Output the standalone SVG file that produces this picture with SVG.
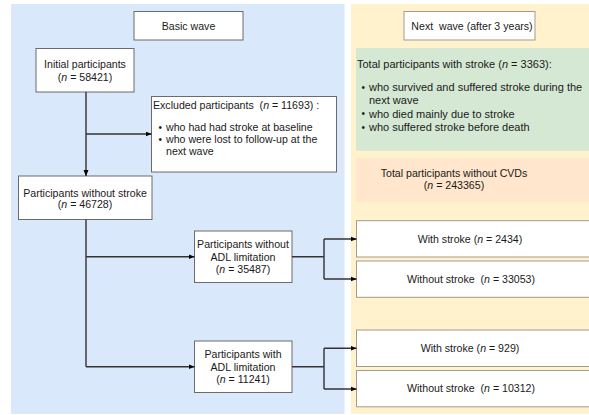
<svg xmlns="http://www.w3.org/2000/svg" width="589" height="415" viewBox="0 0 589 415">
<defs>
<marker id="arr" viewBox="0 0 6 6" refX="6" refY="3" markerWidth="6" markerHeight="6" markerUnits="userSpaceOnUse" orient="auto">
<path d="M0,0.5 L6,3 L0,5.5 Z" fill="#000"/>
</marker>
<style>
text{font-family:"Liberation Sans",Arial,sans-serif;font-size:10.6px;fill:#1a1a1a}
.c{text-anchor:middle}
.g{font-size:11px}
.b{font-size:10px}
.box{fill:#fff;stroke:#6b6b6b;stroke-width:1}
.rbox{fill:#fff;stroke:#a39b8c;stroke-width:1}
.con{fill:none;stroke:#333;stroke-width:1.4}
.arrow{marker-end:url(#arr)}
</style>
</defs>
<rect x="11" y="4" width="333.5" height="410" fill="#dae8fc"/>
<rect x="351" y="4" width="240" height="410" fill="#fff2cc"/>

<g id="basic-wave">
<rect class="box" x="134" y="11.5" width="109" height="28.5"/>
<text class="c" x="188.5" y="29.7">Basic wave</text>
</g>
<g id="next-wave">
<rect class="rbox" x="404" y="11.5" width="131" height="28.5"/>
<text class="c" x="472" y="29.7" xml:space="preserve">Next  wave (after 3 years)</text>
</g>

<g id="initial">
<rect class="box" x="36" y="48.5" width="98" height="43.5"/>
<text class="c" x="85" y="67.7">Initial participants</text>
<text class="c" x="85" y="81">(<tspan font-style="italic">n</tspan> = 58421)</text>
</g>

<g id="excluded">
<rect class="box" x="151.5" y="96.5" width="185" height="75.5"/>
<text x="153" y="108.7" xml:space="preserve">Excluded participants  (<tspan font-style="italic">n</tspan> = 11693) :</text>
<text class="b" x="158.5" y="131.2">•</text>
<text x="166" y="131.4">who had had stroke at baseline</text>
<text class="b" x="158.5" y="142.8">•</text>
<text x="166" y="143">who were lost to follow-up at the</text>
<text x="166" y="154.7">next wave</text>
</g>

<g id="without-stroke">
<rect class="box" x="18.5" y="176" width="133.5" height="43.5"/>
<text class="c" x="85" y="197">Participants without stroke</text>
<text class="c" x="85" y="208.3">(<tspan font-style="italic">n</tspan> = 46728)</text>
</g>

<g id="adl-without">
<rect class="box" x="194.5" y="231" width="97.5" height="51.5"/>
<text class="c" x="243" y="248.2">Participants without</text>
<text class="c" x="243" y="260.5">ADL limitation</text>
<text class="c" x="243" y="272.8">(<tspan font-style="italic">n</tspan> = 35487)</text>
</g>

<g id="adl-with">
<rect class="box" x="194.5" y="341" width="97.5" height="51.5"/>
<text class="c" x="243" y="358.2">Participants with</text>
<text class="c" x="243" y="370.5">ADL limitation</text>
<text class="c" x="243" y="382.8">(<tspan font-style="italic">n</tspan> = 11241)</text>
</g>

<g id="total-stroke">
<rect x="356" y="48" width="235" height="102.7" fill="#d5e8d4"/>
<text class="g" x="357" y="68">Total participants with stroke (<tspan font-style="italic">n</tspan> = 3363):</text>
<text class="b" x="361.5" y="90.6">•</text>
<text class="g" x="369" y="90.8">who survived and suffered stroke during the</text>
<text class="g" x="369" y="104.3">next wave</text>
<text class="b" x="361.5" y="117.4">•</text>
<text class="g" x="369" y="117.6">who died mainly due to stroke</text>
<text class="b" x="361.5" y="130.7">•</text>
<text class="g" x="369" y="130.9">who suffered stroke before death</text>
</g>

<g id="total-no-cvd">
<rect x="356" y="158.3" width="235" height="43.4" fill="#ffe6cc"/>
<text class="c" x="454" y="177">Total participants without CVDs</text>
<text class="c" x="454" y="189.2">(<tspan font-style="italic">n</tspan> = 243365)</text>
</g>

<g id="with-stroke-1">
<rect class="rbox" x="356.5" y="220.7" width="240" height="36.3"/>
<text class="c" x="470" y="242.5">With stroke (<tspan font-style="italic">n</tspan> = 2434)</text>
</g>
<g id="without-stroke-1">
<rect class="rbox" x="356.5" y="261" width="240" height="36.3"/>
<text class="c" x="471" y="282.8" xml:space="preserve">Without stroke  (<tspan font-style="italic">n</tspan> = 33053)</text>
</g>
<g id="with-stroke-2">
<rect class="rbox" x="356.5" y="330" width="240" height="36.5"/>
<text class="c" x="470" y="352">With stroke (<tspan font-style="italic">n</tspan> = 929)</text>
</g>
<g id="without-stroke-2">
<rect class="rbox" x="356.5" y="370.5" width="240" height="36.3"/>
<text class="c" x="471" y="392.4" xml:space="preserve">Without stroke  (<tspan font-style="italic">n</tspan> = 10312)</text>
</g>

<g id="connectors">
<path class="con arrow" d="M86 92 V176"/>
<path class="con arrow" d="M86 134 H151.5"/>
<path class="con" d="M86 219.5 V366.7"/>
<path class="con arrow" d="M86 256.7 H194.5"/>
<path class="con arrow" d="M86 366.7 H194.5"/>
<path class="con" d="M292 256.7 H324 M324 239 V279"/>
<path class="con arrow" d="M324 239 H356.5"/>
<path class="con arrow" d="M324 279 H356.5"/>
<path class="con" d="M292 366.7 H324 M324 348.3 V389"/>
<path class="con arrow" d="M324 348.3 H356.5"/>
<path class="con arrow" d="M324 389 H356.5"/>
</g>
</svg>
